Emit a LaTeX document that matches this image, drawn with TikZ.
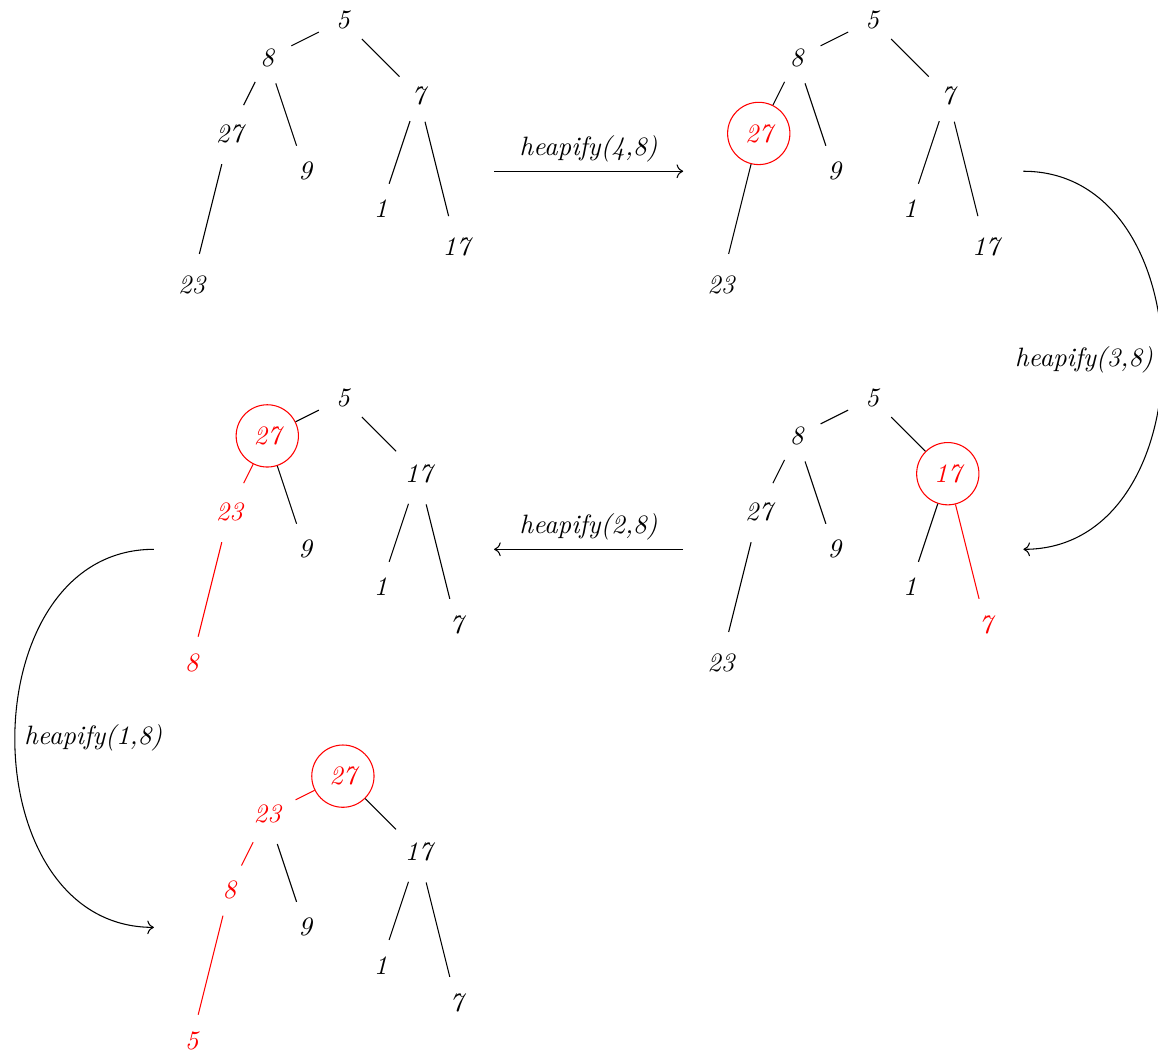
\documentclass[tikz,border=0pt]{standalone}
\usetikzlibrary{arrows.meta}
\begin{document}
\begin{tikzpicture}[
        x=0.5cm, y=0.5cm,
        key/.style={circle, inner sep=4pt, font=\itshape},
        hot/.style={key, text=red},
        swapped/.style={key, draw=red, text=red},
        hotlink/.style={draw=red},
        oplabel/.style={font=\itshape}
      ]

        \useasboundingbox (-9.07,0.53) rectangle (21.56,-27.38);

        \node (a5) [key] at (0,0) {5};
        \node (a8) [key] at (-2,-1) {8};
        \node (a7) [key] at (2,-2) {7};
        \node (a27) [key] at (-3,-3) {27};
        \node (a9) [key] at (-1,-4) {9};
        \node (a1) [key] at (1,-5) {1};
        \node (a17) [key] at (3,-6) {17};
        \node (a23) [key] at (-4,-7) {23};
        \draw (a5) -- (a8) (a5) -- (a7) (a8) -- (a27) (a8) -- (a9)
              (a7) -- (a1) (a7) -- (a17) (a27) -- (a23);

        \begin{scope}[shift={(14,0)}]
        \node (b5) [key] at (0,0) {5};
        \node (b8) [key] at (-2,-1) {8};
        \node (b7) [key] at (2,-2) {7};
        \node (b27) [swapped] at (-3,-3) {27};
        \node (b9) [key] at (-1,-4) {9};
        \node (b1) [key] at (1,-5) {1};
        \node (b17) [key] at (3,-6) {17};
        \node (b23) [key] at (-4,-7) {23};
        \draw (b5) -- (b8) (b5) -- (b7) (b8) -- (b27) (b8) -- (b9)
              (b7) -- (b1) (b7) -- (b17) (b27) -- (b23);
        \end{scope}

        \begin{scope}[shift={(14,-10)}]
        \node (c5) [key] at (0,0) {5};
        \node (c8) [key] at (-2,-1) {8};
        \node (c17) [swapped] at (2,-2) {17};
        \node (c27) [key] at (-3,-3) {27};
        \node (c9) [key] at (-1,-4) {9};
        \node (c1) [key] at (1,-5) {1};
        \node (c7) [hot] at (3,-6) {7};
        \node (c23) [key] at (-4,-7) {23};
        \draw (c5) -- (c8) (c5) -- (c17) (c8) -- (c27) (c8) -- (c9)
              (c17) -- (c1) (c27) -- (c23);
        \draw[hotlink] (c17) -- (c7);
        \end{scope}

        \begin{scope}[shift={(0,-10)}]
        \node (d5) [key] at (0,0) {5};
        \node (d27) [swapped] at (-2,-1) {27};
        \node (d17) [key] at (2,-2) {17};
        \node (d23) [hot] at (-3,-3) {23};
        \node (d9) [key] at (-1,-4) {9};
        \node (d1) [key] at (1,-5) {1};
        \node (d7) [key] at (3,-6) {7};
        \node (d8) [hot] at (-4,-7) {8};
        \draw (d5) -- (d27) (d5) -- (d17) (d27) -- (d9)
              (d17) -- (d1) (d17) -- (d7);
        \draw[hotlink] (d27) -- (d23) (d23) -- (d8);
        \end{scope}

        \begin{scope}[shift={(0,-20)}]
        \node (e27) [swapped] at (0,0) {27};
        \node (e23) [hot] at (-2,-1) {23};
        \node (e17) [key] at (2,-2) {17};
        \node (e8) [hot] at (-3,-3) {8};
        \node (e9) [key] at (-1,-4) {9};
        \node (e1) [key] at (1,-5) {1};
        \node (e7) [key] at (3,-6) {7};
        \node (e5) [hot] at (-4,-7) {5};
        \draw (e27) -- (e17) (e23) -- (e9) (e17) -- (e1) (e17) -- (e7);
        \draw[hotlink] (e27) -- (e23) (e23) -- (e8) (e8) -- (e5);
        \end{scope}

        \coordinate (out1) at (4,-4);
        \coordinate (in1) at (9,-4);
        \coordinate (out2) at (18,-4);
        \coordinate (in2) at (18,-14);
        \coordinate (out3) at (9,-14);
        \coordinate (in3) at (4,-14);
        \coordinate (out4) at (-5,-14);
        \coordinate (in4) at (-5,-24);

        \draw[->] (out1) -- node[above, oplabel] {heapify(4,8)} (in1);
        \draw[->] (out2) .. controls +(4.9,0) and +(4.9,0) .. node[left, oplabel] {heapify(3,8)} (in2);
        \draw[->] (out3) -- node[above, oplabel] {heapify(2,8)} (in3);
        \draw[->] (out4) .. controls +(-4.9,0) and +(-4.9,0) .. node[right, oplabel] {heapify(1,8)} (in4);
      \end{tikzpicture}
\end{document}
